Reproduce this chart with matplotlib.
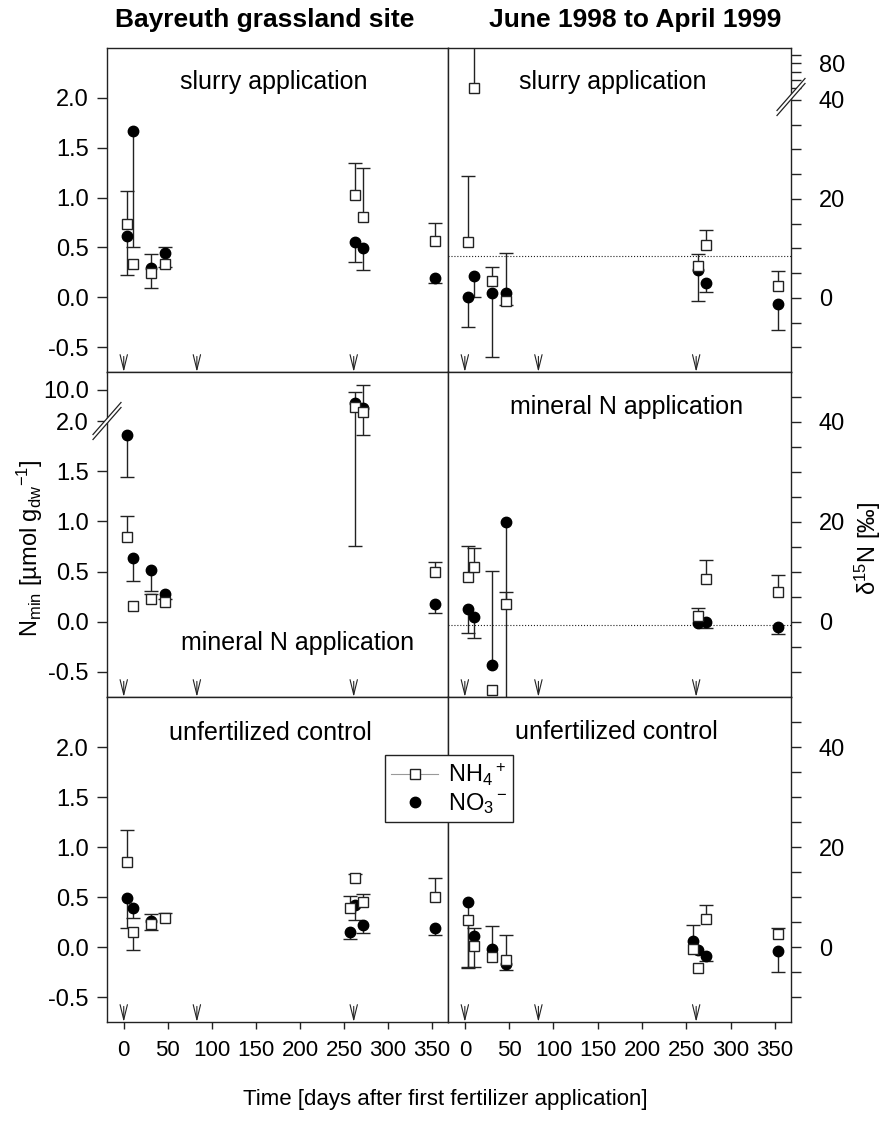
import numpy as np
import matplotlib
matplotlib.use('Agg')
import matplotlib.pyplot as plt
from matplotlib.lines import Line2D
from matplotlib.patches import Polygon

plt.rcParams['font.family'] = ['Liberation Sans', 'DejaVu Sans']
plt.rcParams['mathtext.default'] = 'regular'

nan = np.nan
days = np.array([4, 10, 31, 47, 257, 263, 272, 353])
fert_days = [0, 83, 261]

# N_min [umol g_dw-1]; *_end = end point of the (one-sided) error bar
nh4_slurry = [0.73, 0.33, 0.24, 0.33, nan, 1.03, 0.80, 0.56]
nh4_slurry_end = [1.07, nan, 0.09, 0.30, nan, 1.35, 1.30, 0.74]
no3_slurry = [0.61, 1.67, 0.29, 0.44, nan, 0.55, 0.49, 0.19]
no3_slurry_end = [0.22, 0.50, 0.43, 0.50, nan, 0.35, 0.27, 0.14]

nh4_mineral = [0.84, 0.16, 0.23, 0.20, nan, 6.3, 5.2, 0.50]
nh4_mineral_end = [1.05, nan, 0.28, 0.23, nan, 0.76, 1.86, 0.60]
no3_mineral = [1.86, 0.64, 0.52, 0.28, nan, 7.2, 6.1, 0.18]
no3_mineral_end = [1.44, 0.41, 0.31, nan, nan, 9.6, 11.1, 0.09]

nh4_control = [0.85, 0.15, 0.23, 0.29, 0.39, 0.69, 0.45, 0.50]
nh4_control_end = [1.17, -0.03, 0.33, 0.34, 0.51, 0.73, 0.53, 0.69]
no3_control = [0.49, 0.39, 0.26, nan, 0.15, 0.42, 0.22, 0.19]
no3_control_end = [0.19, 0.29, 0.17, nan, 0.08, 0.27, 0.14, 0.12]

# delta 15N [permil]
d_nh4_slurry = [11.3, 50.0, 3.4, -0.7, nan, 6.4, 10.6, 2.3]
d_nh4_slurry_end = [24.7, 130.0, 6.3, -1.4, nan, 8.9, 13.8, 5.4]
d_no3_slurry = [0.1, 4.4, 1.0, 1.0, nan, 5.7, 3.0, -1.2]
d_no3_slurry_end = [-5.9, 0.1, -12.0, 9.1, nan, -0.7, 1.2, -6.6]

d_nh4_mineral = [9.1, 11.1, -13.5, 3.6, nan, 1.3, 8.7, 6.1]
d_nh4_mineral_end = [15.3, 14.9, nan, 6.0, nan, 2.8, 12.5, 9.4]
d_no3_mineral = [2.6, 1.1, -8.6, 20.0, nan, -0.2, 0.0, -0.9]
d_no3_mineral_end = [-2.2, -3.1, 10.3, -25.0, nan, nan, -1.1, -2.3]

d_nh4_control = [5.5, 0.3, -2.0, -2.5, -0.3, -4.1, 5.7, 2.7]
d_nh4_control_end = [-3.9, -3.9, nan, 2.5, nan, nan, 8.5, 3.9]
d_no3_control = [9.0, 2.3, -0.3, -3.3, 1.3, -0.5, -1.8, -0.7]
d_no3_control_end = [-4.2, 3.9, 4.3, -4.5, 4.5, nan, -2.8, -4.9]

ref_slurry = 8.4
ref_mineral = -0.5

INK = '#222222'
W, H = 885, 1121
fig = plt.figure(figsize=(W / 100, H / 100), dpi=100)

cols = [(107, 448), (448, 791)]
rows = [(48, 372), (372, 697), (697, 1022)]


def piecewise(xp, fp):
    return (lambda v: np.interp(v, xp, fp), lambda v: np.interp(v, fp, xp))


def draw(ax, y_nh4, e_nh4, y_no3, e_no3):
    series = [(y_no3, e_no3, dict(marker='o', ms=7.5, color='black')),
              (y_nh4, e_nh4, dict(marker='s', ms=6.5, mfc='white', mec=INK, mew=1))]
    for i, (y, e, kw) in enumerate(series):
        y = np.asarray(y, float)
        e = np.asarray(e, float)
        m = ~np.isnan(e) & ~np.isnan(y)
        ax.vlines(days[m], y[m], e[m], color=INK, lw=1, zorder=2)
        ax.plot(days[m], e[m], ls='none', marker='_', ms=10, mew=1, color=INK, zorder=2)
        ax.plot(days, y, ls='none', zorder=3 + i, **kw)


def break_mark(cx, cy):
    # cx, cy in pixels (top-origin)
    fx, fy = cx / W, 1 - cy / H
    dx, dy, g = 14 / W, 16 / H, 2.5 / H
    poly = Polygon([(fx - dx, fy - dy - g), (fx + dx, fy + dy - g),
                    (fx + dx, fy + dy + g), (fx - dx, fy - dy + g)],
                   closed=True, transform=fig.transFigure, fc='white', ec='none', zorder=10)
    fig.add_artist(poly)
    for s in (-g, g):
        fig.add_artist(Line2D([fx - dx, fx + dx], [fy - dy + s, fy + dy + s],
                              transform=fig.transFigure, color=INK, lw=0.9, zorder=11))


conc = [(nh4_slurry, nh4_slurry_end, no3_slurry, no3_slurry_end),
        (nh4_mineral, nh4_mineral_end, no3_mineral, no3_mineral_end),
        (nh4_control, nh4_control_end, no3_control, no3_control_end)]
delta = [(d_nh4_slurry, d_nh4_slurry_end, d_no3_slurry, d_no3_slurry_end),
         (d_nh4_mineral, d_nh4_mineral_end, d_no3_mineral, d_no3_mineral_end),
         (d_nh4_control, d_nh4_control_end, d_no3_control, d_no3_control_end)]
titles = ['slurry application', 'mineral N application', 'unfertilized control']
title_pos = [[(0.49, 0.896), (0.48, 0.896)],
             [(0.56, 0.166), (0.52, 0.893)],
             [(0.48, 0.889), (0.49, 0.893)]]

for r, (t, b) in enumerate(rows):
    for c, (l, rr) in enumerate(cols):
        ax = fig.add_axes([l / W, 1 - b / H, (rr - l) / W, (b - t) / H])
        for sp in ax.spines.values():
            sp.set_color(INK)
            sp.set_linewidth(1)
        ax.set_xlim(-19, 368)
        ax.set_xticks(range(0, 351, 50))
        ax.tick_params(axis='x', direction='out', length=5, width=1, color=INK,
                       labelsize=16, pad=8, top=False, labelbottom=(r == 2))

        if c == 0:
            draw(ax, *conc[r])
            yt = [-0.5, 0.0, 0.5, 1.0, 1.5, 2.0]
            if r == 1:
                ax.set_yscale('function', functions=piecewise([-10, 2.0, 5.0, 100], [-10, 2.0, 2.08, 6.45]))
                ax.set_ylim(-0.75, 13.9)
                yt = yt + [10.0]
            else:
                ax.set_ylim(-0.75, 2.5)
            ax.set_yticks(yt, ['%.1f' % v for v in yt])
            ax.tick_params(axis='y', direction='out', length=7, width=1, color=INK,
                           labelsize=17, pad=6, right=False)
        else:
            draw(ax, *delta[r])
            if r == 0:
                ax.set_yscale('function', functions=piecewise([-100, 41, 50, 300], [-100, 41, 42.4, 84.3]))
                ax.set_ylim(-15, 98.4)
                yt = list(range(-10, 41, 5)) + [50, 60, 70, 80, 90]
                lab = [str(v) if v in (0, 20, 40, 80) else '' for v in yt]
                ax.axhline(ref_slurry, color=INK, lw=0.8, ls=':', zorder=1)
            else:
                ax.set_ylim(-15, 50)
                yt = list(range(-10, 46, 5))
                lab = [str(v) if v in (0, 20, 40) else '' for v in yt]
                if r == 1:
                    ax.axhline(ref_mineral, color=INK, lw=0.8, ls=':', zorder=1)
            ax.yaxis.tick_right()
            ax.set_yticks(yt, lab)
            ax.tick_params(axis='y', direction='out', length=7, width=1, color=INK,
                           labelsize=17, pad=13, left=False, labelleft=False,
                           right=True, labelright=True)

        tx, ty = title_pos[r][c]
        ax.text(tx, ty, titles[r], transform=ax.transAxes, ha='center', va='center',
                fontsize=18, color='black')

        for d in fert_days:
            ax.annotate('', xy=(d, 0), xycoords=ax.get_xaxis_transform(),
                        xytext=(d, 0.048), textcoords=ax.get_xaxis_transform(),
                        arrowprops=dict(arrowstyle='->, head_length=0.9, head_width=0.22',
                                        lw=0.8, color=INK, shrinkA=0, shrinkB=0,
                                        mutation_scale=12))

# axis breaks
break_mark(107, 421)
break_mark(791, 97)

# titles and axis labels
fig.text(265 / W, 1 - 20 / H, 'Bayreuth grassland site', ha='center', va='center',
         fontsize=19, fontweight='bold')
fig.text(635 / W, 1 - 20 / H, 'June 1998 to April 1999', ha='center', va='center',
         fontsize=19, fontweight='bold')
fig.text(30 / W, 1 - 548 / H, r'N$_{min}$ [µmol g$_{dw}$$^{-1}$]', rotation=90,
         ha='center', va='center', fontsize=17)
fig.text(868 / W, 1 - 548 / H, 'δ$^{15}$N [‰]', rotation=90,
         ha='center', va='center', fontsize=17)
fig.text(445 / W, 1 - 1099 / H, 'Time [days after first fertilizer application]',
         ha='center', va='center', fontsize=16)

handles = [Line2D([], [], color='#999999', lw=0.8, marker='s', ms=6.5, mfc='white', mec=INK),
           Line2D([], [], ls='none', marker='o', ms=7.5, color='black')]
leg = fig.legend(handles, ['NH$_4$$^+$', 'NO$_3$$^-$'], loc='upper left',
                 bbox_to_anchor=(385 / W, 1 - 755 / H), frameon=True, fancybox=False,
                 edgecolor=INK, framealpha=1, fontsize=17, borderpad=0.25,
                 handlelength=2.0, labelspacing=0.15, handletextpad=0.4, borderaxespad=0)
leg.get_frame().set_linewidth(1)

fig.savefig('out.png', dpi=100)
